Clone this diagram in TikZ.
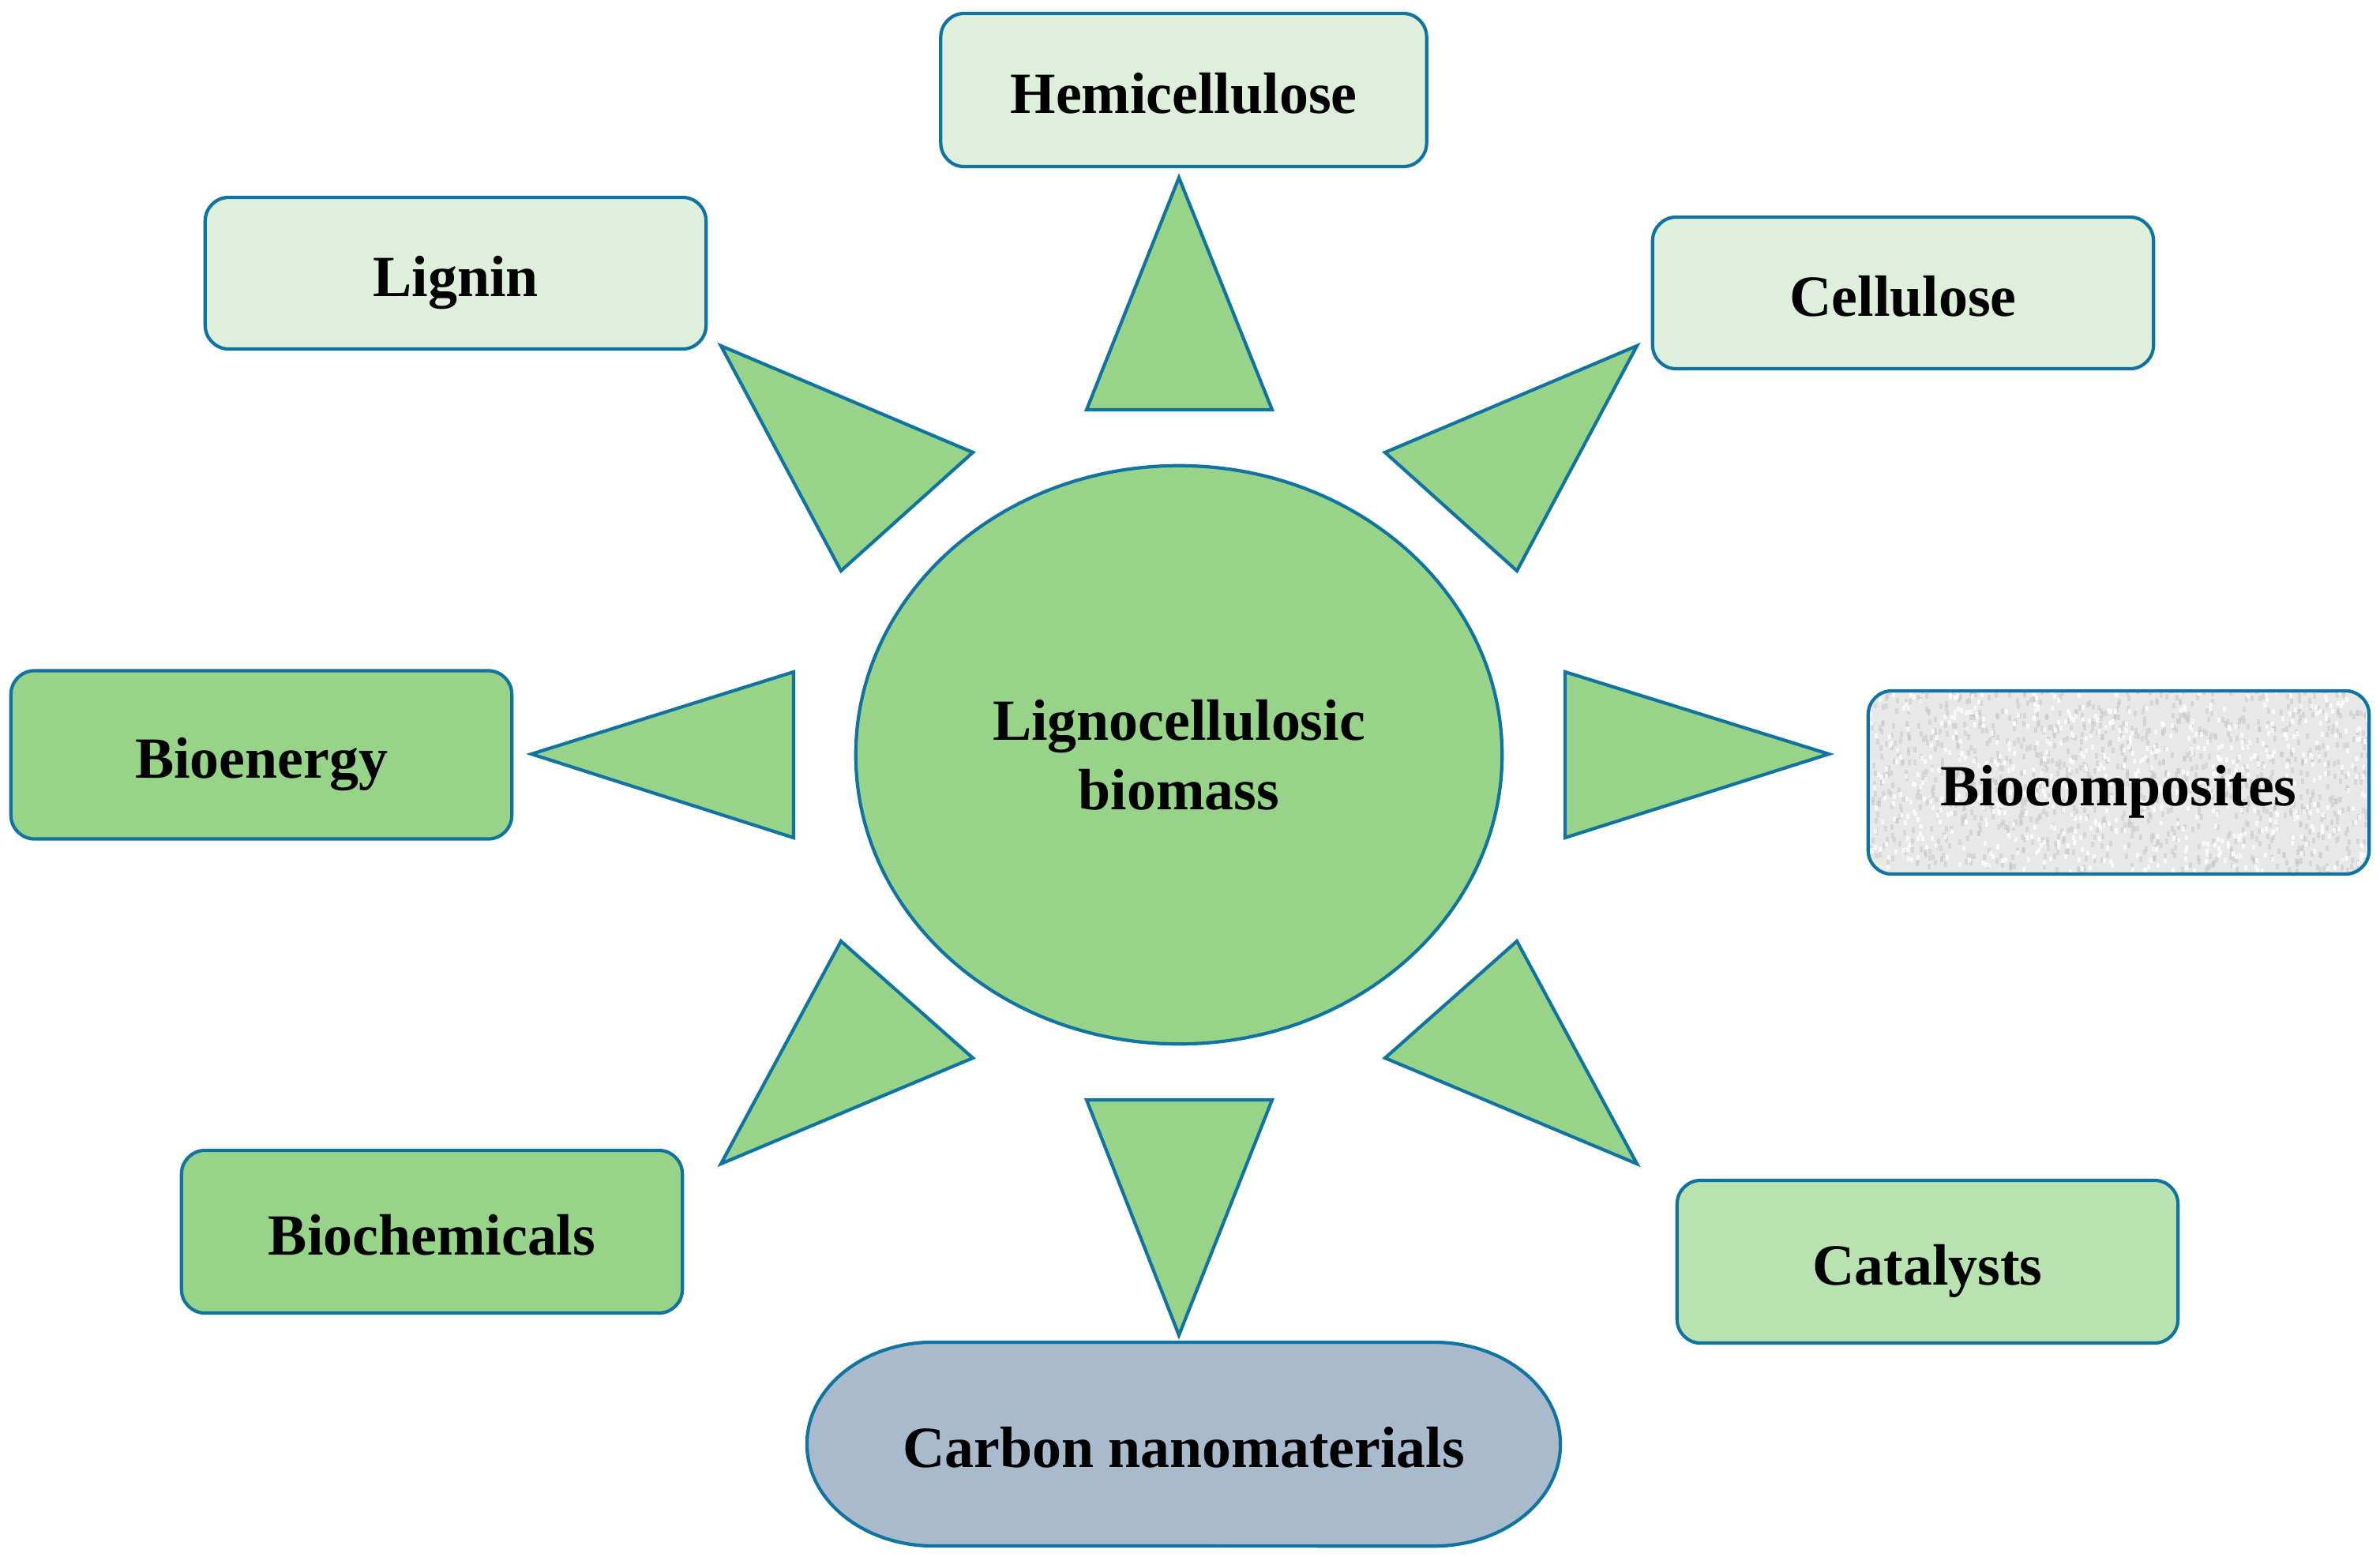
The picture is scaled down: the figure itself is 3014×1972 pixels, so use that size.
\documentclass[tikz,border=0pt]{standalone}
\usepackage{fontspec}
\setmainfont{Liberation Serif}
\usetikzlibrary{shapes.geometric}

\definecolor{leafgreen}{HTML}{98D38A}
\definecolor{palegreen}{HTML}{DEF0DB}
\definecolor{mintgreen}{HTML}{B9E2B1}
\definecolor{slategrey}{HTML}{A9BACC}
\definecolor{edgeblue}{HTML}{1174A0}
\definecolor{paper}{HTML}{E8E8E8}

\begin{document}
\begin{tikzpicture}[x=0.01cm, y=0.01cm,
    outline/.style={draw=edgeblue, line width=1.2pt},
    txt/.style={inner sep=0pt, align=center, font=\fontsize{21}{25}\selectfont\bfseries},
    line/.style={txt, text height=16.7pt, text depth=0pt},
    box/.style={line, outline, rounded corners=0.3cm, minimum width=6.34cm},
    tri/.style={outline, fill=leafgreen}]

  \useasboundingbox (0,0) rectangle (3014,-1972);

  % centre
  \node[txt, outline, ellipse, fill=leafgreen, minimum width=8.18cm, minimum height=7.32cm] (core) at (1493,-956) {Lignocellulosic\\biomass};

  % inputs (top)
  \node[box, fill=palegreen, minimum width=6.15cm, minimum height=1.94cm] (hemi) at (1499,-114) {Hemicellulose};
  \node[box, fill=palegreen, minimum height=1.92cm] (lignin) at (577,-346) {Lignin};
  \node[box, fill=palegreen, minimum height=1.92cm] (cellulose) at (2410,-371) {Cellulose};

  % products (sides and bottom)
  \node[box, fill=leafgreen, minimum height=2.13cm] (bioenergy) at (331,-956) {Bioenergy};
  \node[box, fill=leafgreen, minimum height=2.06cm] (biochem) at (547,-1560) {Biochemicals};
  \node[box, fill=mintgreen, minimum height=2.06cm] (catalysts) at (2441,-1598) {Catalysts};

  % biocomposites, speckled paper
  \begin{scope}
    \clip[rounded corners=0.3cm] (2366,-875) rectangle (3000,-1107);
    \fill[paper] (2366,-875) rectangle (3000,-1107);
    \pgfmathsetseed{11}
    \foreach \k in {1,...,1100}{
      \pgfmathsetmacro\sx{2366+634*rnd}
      \pgfmathsetmacro\sy{-875-232*rnd}
      \fill[gray!45, opacity=0.5] (\sx,\sy) rectangle ++(4,7);
    }
    \foreach \k in {1,...,700}{
      \pgfmathsetmacro\sx{2366+634*rnd}
      \pgfmathsetmacro\sy{-875-232*rnd}
      \fill[white, opacity=0.7] (\sx,\sy) rectangle ++(4,6);
    }
  \end{scope}
  \node[box, minimum height=2.32cm] (biocomp) at (2683,-991) {Biocomposites};

  % carbon nanomaterials, stadium
  \draw[outline, fill=slategrey] (1182,-1700) -- (1816,-1700)
    arc[start angle=90, end angle=-90, x radius=1.6cm, y radius=1.29cm]
    -- (1182,-1958)
    arc[start angle=270, end angle=90, x radius=1.6cm, y radius=1.29cm] -- cycle;
  \node[line, minimum width=9.54cm, minimum height=2.58cm] (carbon) at (1499,-1829) {Carbon nanomaterials};

  % rays
  \draw[tri] (1493,-225) -- (1611,-519) -- (1376,-519) -- cycle;
  \draw[tri] (913,-438) -- (1232,-573) -- (1065,-723) -- cycle;
  \draw[tri] (2073,-438) -- (1754,-573) -- (1921,-723) -- cycle;
  \draw[tri] (673,-955) -- (1005,-851) -- (1005,-1061) -- cycle;
  \draw[tri] (2316,-955) -- (1982,-851) -- (1982,-1061) -- cycle;
  \draw[tri] (1065,-1192) -- (1232,-1340) -- (913,-1474) -- cycle;
  \draw[tri] (1921,-1192) -- (1754,-1340) -- (2073,-1474) -- cycle;
  \draw[tri] (1493,-1691) -- (1376,-1393) -- (1611,-1393) -- cycle;

\end{tikzpicture}
\end{document}
